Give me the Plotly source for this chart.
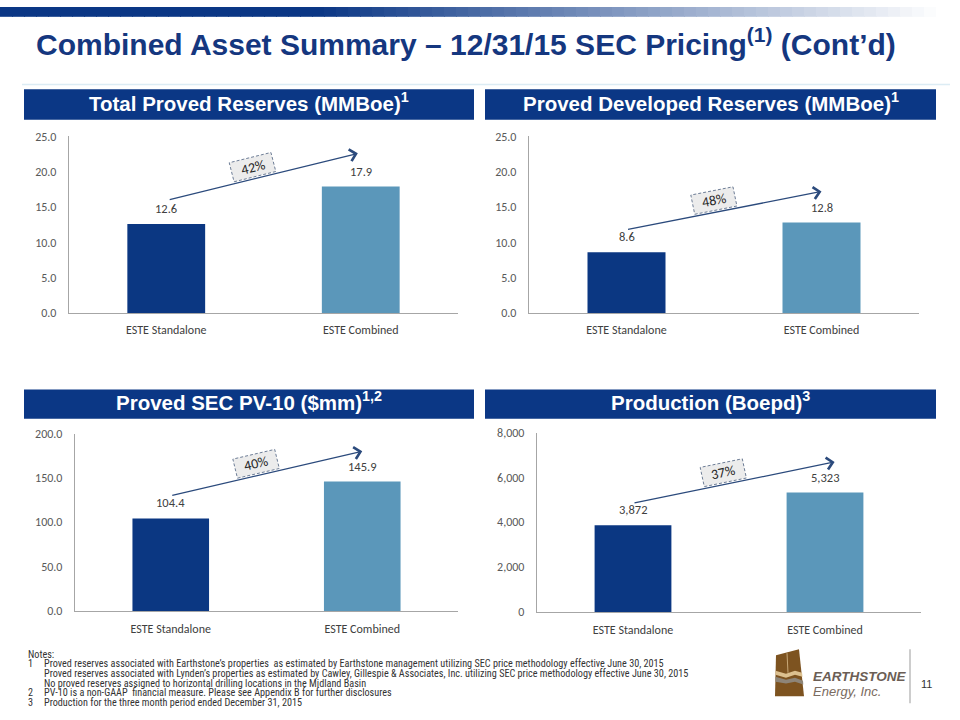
import math
import plotly.graph_objects as go

# ---------------- data ----------------
categories = ["ESTE Standalone", "ESTE Combined"]
total_proved = [12.6, 17.9]
proved_developed = [8.6, 12.8]
pv10 = [104.4, 145.9]
production = [3872, 5323]
series = [total_proved, proved_developed, pv10, production]
growth_labels = ["42%", "48%", "40%", "37%"]
panel_titles = [
    "Total Proved Reserves (MMBoe)<sup>1</sup>",
    "Proved Developed Reserves (MMBoe)<sup>1</sup>",
    "Proved SEC PV-10 ($mm)<sup>1,2</sup>",
    "Production (Boepd)<sup>3</sup>",
]
y_ranges = [(0, 25), (0, 25), (0, 200), (0, 8000)]
y_dticks = [5, 5, 50, 2000]
y_formats = [".1f", ".1f", ".1f", ",d"]
label_formats = ["{:.1f}", "{:.1f}", "{:.1f}", "{:,}"]
# growth arrow end points (in data units)
arrow_start_y = [16.0, 11.8, 130, 4850]
arrow_end_y = [22.6, 17.2, 180, 6690]
arrow_start_x = [0.01, 0.0, 0.0, 0.0]
arrow_end_x = [0.985, 1.0, 1.0, 1.05]

notes = [
    ("", "Notes:"),
    ("1", "Proved reserves associated with Earthstone’s properties  as estimated by Earthstone management utilizing SEC price methodology effective June 30, 2015"),
    ("", "Proved reserves associated with Lynden’s properties as estimated by Cawley, Gillespie &amp; Associates, Inc. utilizing SEC price methodology effective June 30, 2015"),
    ("", "No proved reserves assigned to horizontal drilling locations in the Midland Basin"),
    ("2", "PV-10 is a non-GAAP  financial measure. Please see Appendix B for further disclosures"),
    ("3", "Production for the three month period ended December 31, 2015"),
]

# ---------------- styling / layout ----------------
W, H = 960, 720
DARK = "#0b3782"
LIGHT = "#5b97ba"
HEADER = "#0b3785"
TITLE_C = "#15377f"
AXIS_C = "#a6a6a6"
TICK_C = "#595959"
NUM_FONT = "Carlito, Calibri, Lato, sans-serif"
ARIAL = "Liberation Sans, Arial, sans-serif"
NARROW = "Liberation Sans Narrow, Arial Narrow, Roboto Condensed, Arial, sans-serif"

# plot areas in pixels: (left, right, top, bottom)
plots = [(69, 458, 132, 312), (529, 919, 132, 312), (75, 458, 435, 616), (537, 921, 434, 617)]
headers = [(24, 474, 84, 115), (485, 936, 84, 115), (24, 474, 390, 420), (485, 936, 390, 420)]


def px(x):
    return x / W


def py(y):
    return 1 - y / H


fig = go.Figure()
shapes = []
annotations = []
layout_axes = {}

for i in range(4):
    n = "" if i == 0 else str(i + 1)
    xr, yr = "x" + n, "y" + n
    l, r, t, b = plots[i]
    fig.add_trace(go.Bar(
        x=categories, y=series[i], xaxis=xr, yaxis=yr,
        marker=dict(color=[DARK, LIGHT], line=dict(width=0)),
        width=0.4, showlegend=False, hoverinfo="skip",
    ))
    # value labels above the bars
    for cat, v in zip(categories, series[i]):
        annotations.append(dict(xref=xr, yref=yr, x=cat, y=v, text=label_formats[i].format(v),
                                showarrow=False, xanchor="center", yanchor="bottom", yshift=6,
                                font=dict(family=NUM_FONT, size=12.5, color="#404040")))
    layout_axes["xaxis" + n] = dict(
        domain=[px(l), px(r)], anchor=yr, range=[-0.5, 1.5], type="category",
        showline=True, linecolor=AXIS_C, linewidth=1.3, showgrid=False, zeroline=False,
        ticks="", tickfont=dict(family=NUM_FONT, size=12, color="#404040"),
        ticklabelstandoff=6, fixedrange=True,
    )
    layout_axes["yaxis" + n] = dict(
        domain=[py(b), py(t)], anchor=xr, range=list(y_ranges[i]), dtick=y_dticks[i],
        tickformat=y_formats[i], showline=True, linecolor=AXIS_C, linewidth=1.3,
        showgrid=False, zeroline=False, ticks="",
        tickfont=dict(family=NUM_FONT, size=12, color=TICK_C),
        ticklabelstandoff=9, fixedrange=True,
    )

    # header bar
    hl, hr_, ht, hb = headers[i]
    shapes.append(dict(type="rect", xref="paper", yref="paper", x0=px(hl), x1=px(hr_),
                       y0=py(hb), y1=py(ht), fillcolor=HEADER, line=dict(width=0), layer="below"))
    annotations.append(dict(xref="paper", yref="paper", x=px((hl + hr_) / 2), y=py((ht + hb) / 2 - 3),
                            text="<b>" + panel_titles[i] + "</b>", showarrow=False,
                            font=dict(family=ARIAL, size=20.5, color="white"),
                            xanchor="center", yanchor="middle"))

    # growth arrow
    annotations.append(dict(xref=xr, yref=yr, axref=xr, ayref=yr,
                            x=arrow_end_x[i], y=arrow_end_y[i], ax=arrow_start_x[i], ay=arrow_start_y[i],
                            text="", showarrow=True, arrowhead=4, arrowsize=1.8, arrowwidth=1.3,
                            arrowcolor="#2b4a7c"))

    # growth box: compute its pixel placement from the arrow geometry
    lo, hi = y_ranges[i]

    def to_pix(xv, yv):
        return (l + (xv + 0.5) / 2.0 * (r - l), b - (yv - lo) / (hi - lo) * (b - t))

    sx, sy = to_pix(arrow_start_x[i], arrow_start_y[i])
    ex, ey = to_pix(arrow_end_x[i], arrow_end_y[i])
    L = math.hypot(ex - sx, ey - sy)
    dx, dy = (ex - sx) / L, (ey - sy) / L
    nx, ny = dy, -dx  # perpendicular pointing up
    tpos = 0.46
    cx = sx + tpos * (ex - sx) + 12 * nx
    cy = sy + tpos * (ey - sy) + 12 * ny
    bw, bh = 43, 20
    corners = []
    for sa, sb in [(-1, -1), (1, -1), (1, 1), (-1, 1)]:
        corners.append((cx + sa * bw / 2 * dx + sb * bh / 2 * nx, cy + sa * bw / 2 * dy + sb * bh / 2 * ny))
    path = "M " + " L ".join(f"{px(a):.5f},{py(c):.5f}" for a, c in corners) + " Z"
    shapes.append(dict(type="path", xref="paper", yref="paper", path=path, fillcolor="#ececec",
                       line=dict(color="#6d7d96", width=1, dash="3px,2px"), layer="above"))
    ang = math.degrees(math.atan2(dy, dx))
    annotations.append(dict(xref="paper", yref="paper", x=px(cx), y=py(cy), text=growth_labels[i],
                            showarrow=False, textangle=ang, xanchor="center", yanchor="middle",
                            font=dict(family=NUM_FONT, size=14, color="#262626")))

# top gradient band
steps = 80
c0 = (11, 55, 133)
for k in range(steps):
    x0 = k * W / steps
    x1 = (k + 1) * W / steps
    xm = (x0 + x1) / 2
    tt = 0 if xm < 320 else min(1.0, (xm - 320) / 620)
    col = tuple(int(round(c + (255 - c) * tt)) for c in c0)
    shapes.append(dict(type="rect", xref="paper", yref="paper", x0=px(x0), x1=px(x1) + 0.001,
                       y0=py(10), y1=py(0), fillcolor="rgb(%d,%d,%d)" % col, line=dict(width=0),
                       layer="below"))

# thin line under the title
shapes.append(dict(type="line", xref="paper", yref="paper", x0=px(22), x1=px(950), y0=py(79), y1=py(79),
                   line=dict(color="#dcecf4", width=1.5)))

# title
annotations.append(dict(xref="paper", yref="paper", x=px(34), y=py(36),
                        text="<b>Combined Asset Summary – 12/31/15 SEC Pricing<sup>(1)</sup> (Cont’d)</b>",
                        showarrow=False, xanchor="left", yanchor="middle",
                        font=dict(family=ARIAL, size=30, color=TITLE_C)))

# notes
for k, (num, txt) in enumerate(notes):
    yy = 660 + 9.9 * k
    if num:
        annotations.append(dict(xref="paper", yref="paper", x=px(26), y=py(yy), text=num, showarrow=False,
                                xanchor="left", yanchor="middle",
                                font=dict(family=NARROW, size=10.2, color="#333333")))
    annotations.append(dict(xref="paper", yref="paper", x=px(26 if k == 0 else 42), y=py(yy), text=txt,
                            showarrow=False, xanchor="left", yanchor="middle",
                            font=dict(family=NARROW, size=10.2, color="#333333")))

# logo (approximation)
def ppath(pts):
    return "M " + " L ".join(f"{px(a):.5f},{py(c):.5f}" for a, c in pts) + " Z"

shapes.append(dict(type="path", xref="paper", yref="paper",
                   path=ppath([(776, 661), (799, 655), (804, 703), (775, 703)]),
                   fillcolor="#7d5320", line=dict(width=0)))
shapes.append(dict(type="path", xref="paper", yref="paper",
                   path=ppath([(775.5, 677), (786, 680), (795, 677), (802, 679), (802.5, 683), (795, 681),
                               (786, 684), (775.5, 681)]),
                   fillcolor="#dcc08f", line=dict(width=0)))
shapes.append(dict(type="path", xref="paper", yref="paper",
                   path=ppath([(775.5, 683), (786, 686), (795, 684), (803, 687), (803.3, 691), (795, 688),
                               (786, 690), (775.5, 688)]),
                   fillcolor="#8e8578", line=dict(width=0)))
shapes.append(dict(type="line", xref="paper", yref="paper", x0=px(787), x1=px(788), y0=py(659), y1=py(679),
                   line=dict(color="#c8a878", width=1)))
annotations.append(dict(xref="paper", yref="paper", x=px(811), y=py(683),
                        text="<b><i>EARTHSTONE</i></b>", showarrow=False, xanchor="left", yanchor="middle",
                        font=dict(family=ARIAL, size=13.5, color="#6b5e55")))
annotations.append(dict(xref="paper", yref="paper", x=px(811), y=py(698),
                        text="<i>Energy, Inc.</i>", showarrow=False, xanchor="left", yanchor="middle",
                        font=dict(family=ARIAL, size=13, color="#7a6b60")))
shapes.append(dict(type="line", xref="paper", yref="paper", x0=px(910), x1=px(910), y0=py(655), y1=py(710),
                   line=dict(color="#bdbdbd", width=1.5)))
annotations.append(dict(xref="paper", yref="paper", x=px(926), y=py(690), text="11", showarrow=False,
                        xanchor="center", yanchor="middle",
                        font=dict(family=ARIAL, size=11, color="#333333")))

fig.update_layout(
    width=W, height=H, margin=dict(l=0, r=0, t=0, b=0),
    paper_bgcolor="white", plot_bgcolor="white",
    bargap=0.6, showlegend=False,
    shapes=shapes, annotations=annotations,
    **layout_axes,
)

fig.write_html("out.html", config={"displayModeBar": False})
